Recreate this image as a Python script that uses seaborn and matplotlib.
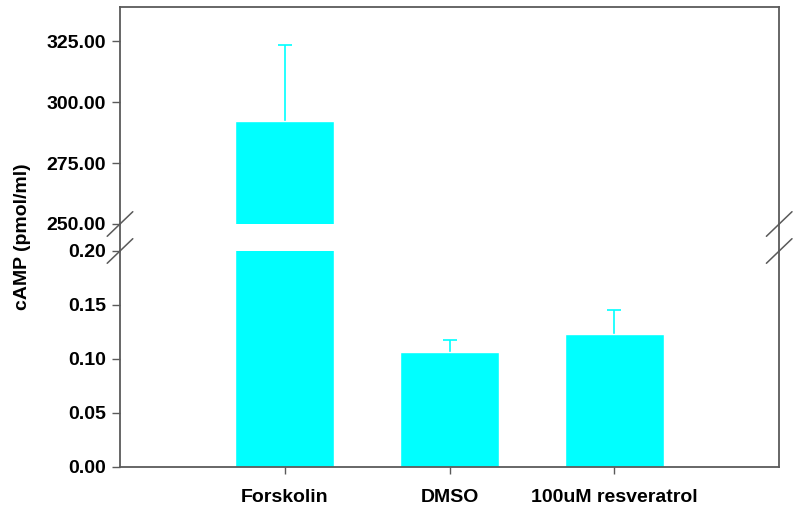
import numpy as np
import pandas as pd
import matplotlib
matplotlib.use("Agg")
import matplotlib.pyplot as plt
from matplotlib.lines import Line2D
from matplotlib.ticker import FormatStrFormatter
import seaborn as sns

# Data
groups = ["Forskolin", "DMSO", "100uM resveratrol"]
camp_mean = [292.2, 0.1065, 0.123]
camp_err = [31.2, 0.011, 0.022]

top_ticks = [250, 275, 300, 325]
bottom_ticks = [0.0, 0.05, 0.10, 0.15, 0.20]

df = pd.DataFrame({"group": groups, "camp": camp_mean, "err": camp_err})

sns.set_theme(style="white")
plt.rcParams["font.family"] = ["Liberation Sans", "DejaVu Sans"]
plt.rcParams["font.weight"] = "bold"
plt.rcParams["text.color"] = "black"
plt.rcParams["xtick.color"] = "black"
plt.rcParams["ytick.color"] = "black"

bar_color = "#00FFFF"
spine_color = "#5a5a5a"
fs = 14

fig = plt.figure(figsize=(8, 5.12), dpi=100)
left, right = 0.15, 0.974
ax_top = fig.add_axes([left, 0.5625, right - left, 0.9863 - 0.5625])
ax_bot = fig.add_axes([left, 0.0879, right - left, 0.5098 - 0.0879])

for ax in (ax_top, ax_bot):
    sns.barplot(data=df, x="group", y="camp", color=bar_color, saturation=1,
                width=0.6, errorbar=None, ax=ax, zorder=2)
    # upper error bars only
    eb = ax.errorbar(np.arange(len(groups)), df["camp"],
                     yerr=[np.zeros(len(groups)), df["err"]],
                     fmt="none", ecolor=bar_color, elinewidth=1.2, capsize=5,
                     capthick=1.2, zorder=1)
    eb[1][0].set_visible(False)
    ax.set_xlim(-1, 3)
    ax.set_xlabel("")
    ax.set_ylabel("")
    for s in ax.spines.values():
        s.set_color(spine_color)
        s.set_linewidth(1.3)
    ax.tick_params(axis="y", direction="out", length=6, width=1,
                   color=spine_color, labelcolor="black", labelsize=fs,
                   pad=4, left=True)

# top panel
ax_top.set_ylim(250, 339)
ax_top.set_yticks(top_ticks)
ax_top.yaxis.set_major_formatter(FormatStrFormatter("%.2f"))
ax_top.spines["bottom"].set_visible(False)
ax_top.tick_params(axis="x", bottom=False, labelbottom=False)

# bottom panel
ax_bot.set_ylim(0, 0.2)
ax_bot.set_yticks(bottom_ticks)
ax_bot.yaxis.set_major_formatter(FormatStrFormatter("%.2f"))
ax_bot.spines["top"].set_visible(False)
ax_bot.tick_params(axis="x", direction="out", length=5, width=1,
                   color=spine_color, labelcolor="black", labelsize=fs,
                   pad=11, bottom=True)
for lbl in ax_bot.get_xticklabels() + ax_bot.get_yticklabels() + ax_top.get_yticklabels():
    lbl.set_fontweight("bold")

# continuous spines through the break and break marks
y_hi, y_lo = 0.5625, 0.5098
for xs in (left, right):
    fig.add_artist(Line2D([xs, xs], [y_lo, y_hi], color=spine_color, lw=1.3))
    for yc in (y_hi, y_lo):
        fig.add_artist(Line2D([xs - 0.016, xs + 0.016], [yc - 0.024, yc + 0.024],
                              color=spine_color, lw=1.1))

fig.text(0.028, 1 - 237 / 512, "cAMP (pmol/ml)", rotation=90, ha="center",
         va="center", fontsize=fs, fontweight="bold", color="black")

fig.savefig("out.png", dpi=100)
